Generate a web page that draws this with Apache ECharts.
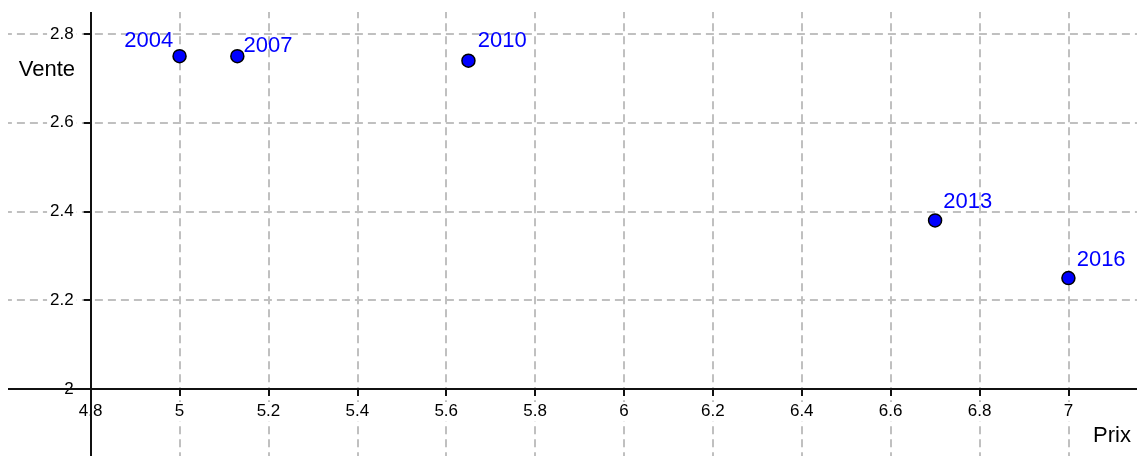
<!DOCTYPE html>
<html>
<head>
<meta charset="utf-8">
<script src="https://cdn.jsdelivr.net/npm/echarts@6/dist/echarts.min.js"></script>
<style>
html,body{margin:0;padding:0;background:#fff;}
#chart{width:1137px;height:456px;}
</style>
</head>
<body>
<div id="chart"></div>
<script>
// ---- data ----
const years = ['2004', '2007', '2010', '2013', '2016'];
const prix = [5.0, 5.13, 5.65, 6.70, 7.0];
const vente = [2.75, 2.75, 2.74, 2.38, 2.25];
const xTickMin = 4.4, xTickMax = 7.2, xTickStep = 0.2;
const yTickMin = 1.8, yTickMax = 3.0, yTickStep = 0.2;
const xOrigin = 4.8, yOrigin = 2;
const xAxisName = 'Prix', yAxisName = 'Vente';

// ---- layout (label placement per point) ----
const labelPlace = {
  '2004': {position: 'left', offset: [1, -15]},
  '2007': {position: 'right', offset: [-1, -10]},
  '2010': {position: 'right', offset: [2, -20]},
  '2013': {position: 'right', offset: [1, -18]},
  '2016': {position: 'right', offset: [1, -18]}
};

const FONT = 'Arial, "Liberation Sans", sans-serif';
const BLUE = '#0000ff';

const points = years.map((y, i) => ({
  name: y,
  value: [prix[i], vente[i]],
  label: labelPlace[y]
}));

const chart = echarts.init(document.getElementById('chart'), null, {renderer: 'canvas'});

const axisLabelBase = {
  color: '#000', fontSize: 17, fontFamily: FONT,
  backgroundColor: '#fff'
};
const splitLineStyle = {show: true, lineStyle: {color: '#c0c0c0', width: 2, type: [8, 5]}};
const tickStyle = {show: true, length: 7, lineStyle: {color: '#111', width: 2}};

chart.setOption({
  animation: false,
  backgroundColor: '#fff',
  grid: {left: -87.1, right: -20.3, top: -54.75, bottom: -21.75, containLabel: false, outerBoundsMode: 'none'},
  xAxis: {
    type: 'value', min: xTickMin, max: xTickMax, interval: xTickStep,
    offset: -88.75,
    axisLine: {show: false},
    axisTick: tickStyle,
    axisLabel: Object.assign({}, axisLabelBase, {margin: 13, padding: [1, 2]}),
    splitLine: splitLineStyle
  },
  yAxis: {
    type: 'value', min: yTickMin, max: yTickMax, interval: yTickStep,
    offset: -177.8,
    axisLine: {show: false},
    axisTick: tickStyle,
    axisLabel: Object.assign({}, axisLabelBase, {margin: 14, padding: [0, 3]}),
    splitLine: splitLineStyle
  },
  series: [
    {
      type: 'scatter',
      z: 3,
      symbol: 'circle',
      symbolSize: 13,
      itemStyle: {color: BLUE, borderColor: '#000', borderWidth: 1.5, opacity: 1},
      label: {
        show: true, formatter: '{b}', color: BLUE, fontSize: 22, fontFamily: FONT, distance: 0
      },
      data: points,
      markLine: {
        z: 1,
        silent: true,
        symbol: 'none',
        label: {show: false},
        lineStyle: {color: '#111', width: 2, type: 'solid'},
        data: [
          [{coord: [4.614, yOrigin]}, {coord: [xTickMax, yOrigin]}],
          [{coord: [xOrigin, yTickMin]}, {coord: [xOrigin, 2.85]}]
        ]
      }
    }
  ],
  graphic: [
    {type: 'rect', z: 100, shape: {x: 0, y: 0, width: 8, height: 388}, style: {fill: '#fff'}},
    {type: 'rect', z: 100, shape: {x: 0, y: 387, width: 8, height: 70}, style: {fill: '#fff'}},
    {type: 'rect', z: 100, shape: {x: 0, y: 391, width: 16, height: 66}, style: {fill: '#fff'}},
    {type: 'rect', z: 100, shape: {x: 0, y: 0, width: 1137, height: 12}, style: {fill: '#fff'}},
    {type: 'text', z: 100, x: 75, y: 70, style: {text: yAxisName, fill: '#000', font: '22px ' + FONT, textAlign: 'right', textVerticalAlign: 'middle'}},
    {type: 'text', z: 100, x: 1093, y: 436, style: {text: xAxisName, fill: '#000', font: '22px ' + FONT, textAlign: 'left', textVerticalAlign: 'middle'}}
  ]
});
</script>
</body>
</html>
